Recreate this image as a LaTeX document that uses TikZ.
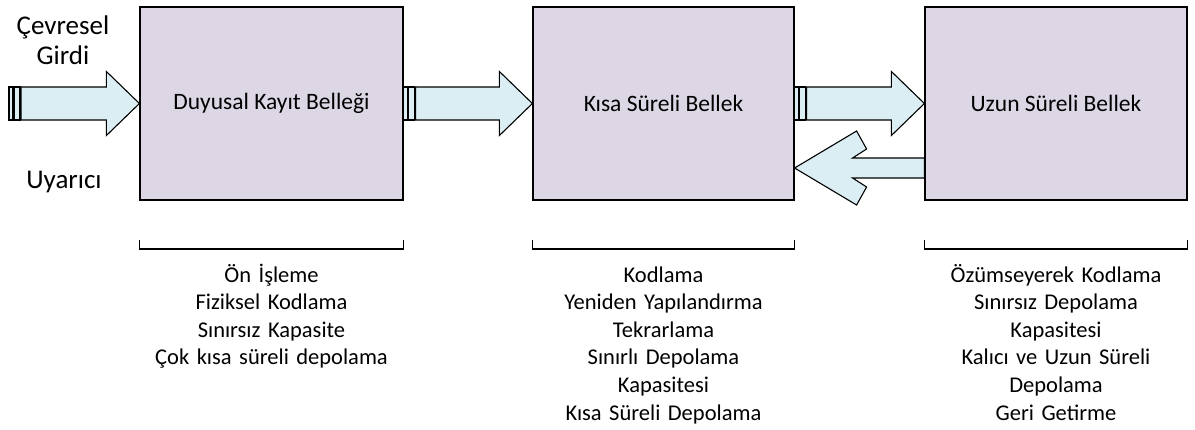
\documentclass[tikz,border=0pt]{standalone}
\usepackage{fontspec}
\setmainfont{Carlito}
\usetikzlibrary{calc}
\definecolor{memfill}{RGB}{221,215,229}
\definecolor{flowfill}{RGB}{219,238,244}
\tikzset{
  membox/.style={draw=black, line width=1.2pt, fill=memfill, minimum height=193pt,
    inner sep=0pt, font=\fontsize{23.5}{28}\selectfont},
  flow/.style={draw=black, line width=1.1pt, fill=flowfill, line join=miter},
  brace/.style={draw=black, line width=1.1pt},
  notes/.style={text width=300pt, align=center, inner sep=0pt, anchor=base,
    font=\fontsize{22.5}{27.6}\selectfont},
  sidelabel/.style={text width=150pt, align=center, inner sep=0pt, anchor=base,
    font=\fontsize{27}{30}\selectfont}
}
% block arrow with a striped tail, from #1 (tail) to #2 (tip)
\newcommand\fwdarrow[2]{%
  \path[flow] ($(#1)+(0,-16.5)$) rectangle ($(#1)+(3.5,16.5)$);
  \path[flow] ($(#1)+(5,-16.5)$) rectangle ($(#1)+(11,16.5)$);
  \path[flow] ($(#1)+(12,-16.5)$) -- ($(#2)+(-33,-16.5)$) -- ($(#2)+(-33,-32)$)
    -- (#2) -- ($(#2)+(-33,32)$) -- ($(#2)+(-33,16.5)$) -- ($(#1)+(12,16.5)$) -- cycle;
}
\begin{document}
\begin{tikzpicture}[x=1pt,y=-1pt]
\useasboundingbox (0,0) rectangle (1195,429);

% memory stores
\node[membox, minimum width=263pt] (dkb) at (271.5,103.5) {Duyusal Kayıt Belleği};
\node[membox, minimum width=261pt] (ksb) at (663.5,103.5) {Kısa Süreli Bellek};
\node[membox, minimum width=262pt] (usb) at (1056,103.5) {Uzun Süreli Bellek};

% environmental input
\node[sidelabel] (cevre) at (63,34) {Çevresel\\Girdi};
\node[sidelabel] (uyarici) at (64,188) {Uyarıcı};
\coordinate (girdi) at (9,103.5);

% forward flow
\fwdarrow{girdi}{dkb.west}
\fwdarrow{dkb.east}{ksb.west}
\fwdarrow{ksb.east}{usb.west}

% retrieval back to short-term memory
\coordinate (tip) at ($(ksb.east)+(0,64.5)$);
\coordinate (tail) at ($(usb.west)+(0,64.5)$);
\path[flow] ($(tail)+(0,-10)$) -- ($(tip)+(58,-10)$) -- ($(tip)+(72,-19)$)
  -- ($(tip)+(62,-37)$) -- (tip) -- ($(tip)+(62,37)$) -- ($(tip)+(72,19)$)
  -- ($(tip)+(58,10)$) -- ($(tail)+(0,10)$) -- cycle;

% brackets under each store
\foreach \b in {dkb,ksb,usb}{
  \draw[brace] (\b.west |- 0,240) -- (\b.west |- 0,249) -- (\b.east |- 0,249) -- (\b.east |- 0,240);
}

% properties of each store
\node[notes] (n1) at (dkb.center |- 0,282) {Ön İşleme\\Fiziksel Kodlama\\Sınırsız Kapasite\\Çok kısa süreli depolama};
\node[notes] (n2) at (ksb.center |- 0,282) {Kodlama\\Yeniden Yapılandırma\\Tekrarlama\\Sınırlı Depolama\\Kapasitesi\\Kısa Süreli Depolama};
\node[notes] (n3) at (usb.center |- 0,282) {Özümseyerek Kodlama\\Sınırsız Depolama\\Kapasitesi\\Kalıcı ve Uzun Süreli\\Depolama\\Geri Getirme};
\end{tikzpicture}
\end{document}
